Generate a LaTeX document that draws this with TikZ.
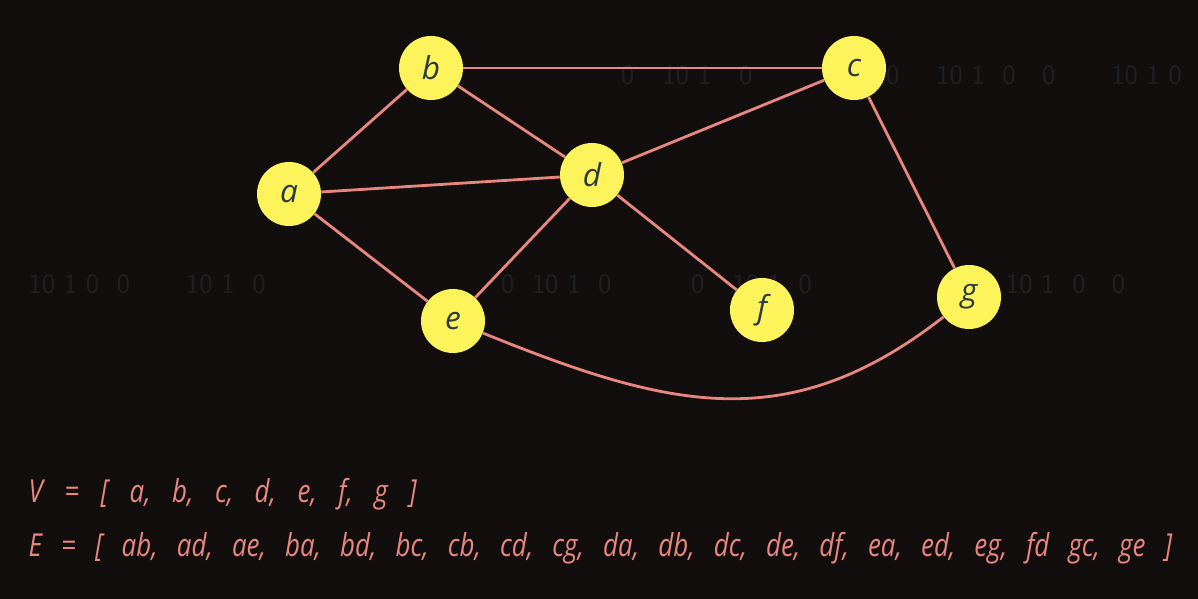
\documentclass[tikz,border=0pt]{standalone}
\usepackage{xcolor}
\usepackage{fontspec}
\usepackage{tikz}
\usetikzlibrary{calc}

\setmainfont{Open Sans}
\newfontfamily\listfont{Open Sans}[FakeStretch=0.82]
\definecolor{bgdark}{HTML}{120E0E}
\definecolor{edgepink}{HTML}{E8877F}
\definecolor{vertexyellow}{HTML}{FDF35A}
\definecolor{lettergray}{HTML}{2B3A40}
\definecolor{digitgray}{HTML}{1F2023}

\tikzset{
    vertex/.style={circle, fill=vertexyellow, minimum size=1.28cm, inner sep=0pt,
        text=lettergray, font=\fontsize{18}{18}\selectfont\itshape},
    edge/.style={draw=edgepink, line width=1.6pt},
    digits/.style={text=digitgray, font=\fontsize{16}{16}\selectfont\sffamily, anchor=west},
    listtext/.style={text=edgepink, font=\fontsize{18}{22}\listfont\itshape, anchor=base west}
}

\begin{document}
\begin{tikzpicture}
    \fill[bgdark] (0,0) rectangle (23.96,11.98);
    \useasboundingbox (0,0) rectangle (23.96,11.98);

    % faint digits in the back
    \node[digits] (row1) at (12.3,10.48) {0\quad 10 1\quad 0};
    \node[digits] (row2) at (17.6,10.48) {0\quad\ 10 1\ \ 0\ \ \ 0\qquad 10 1\ 0};
    \node[digits] (row3) at (0.45,6.3) {10 1\ 0\ \ 0\qquad 10 1\ \ 0};
    \node[digits] (row4) at (9.9,6.3) {0\ \ 10 1\ \ 0};
    \node[digits] (row5) at (13.7,6.3) {0\quad 10 1\ \ 0};
    \node[digits] (row6) at (20.0,6.3) {10 1\ \ 0\ \ \ 0};

    \node[vertex] (a) at (5.78, 8.10) {a};
    \node[vertex] (b) at (8.62, 10.62) {b};
    \node[vertex] (c) at (17.08, 10.62) {c};
    \node[vertex] (d) at (11.84, 8.48) {d};
    \node[vertex] (e) at (9.06, 5.56) {e};
    \node[vertex] (f) at (15.24, 5.78) {f};
    \node[vertex] (g) at (19.38, 6.04) {g};

    \draw[edge] (a) -- (b);
    \draw[edge] (a) -- (d);
    \draw[edge] (a) -- (e);
    \draw[edge] (b) -- (c);
    \draw[edge] (b) -- (d);
    \draw[edge] (c) -- (d);
    \draw[edge] (c) -- (g);
    \draw[edge] (d) -- (e);
    \draw[edge] (d) -- (f);
    \draw[edge] (e) to[out=-22, in=218, looseness=1.1] (g);

    \node[listtext] (vlist) at (0.45, 1.92) {\spaceskip=12.2pt\relax V = [ a, b, c, d, e, f, g ]};
    \node[listtext] (elist) at (0.45, 0.84) {\spaceskip=10.85pt\relax E = [ ab, ad, ae, ba, bd, bc, cb, cd, cg, da, db, dc, de, df, ea, ed, eg, fd gc, ge ]};
\end{tikzpicture}
\end{document}
